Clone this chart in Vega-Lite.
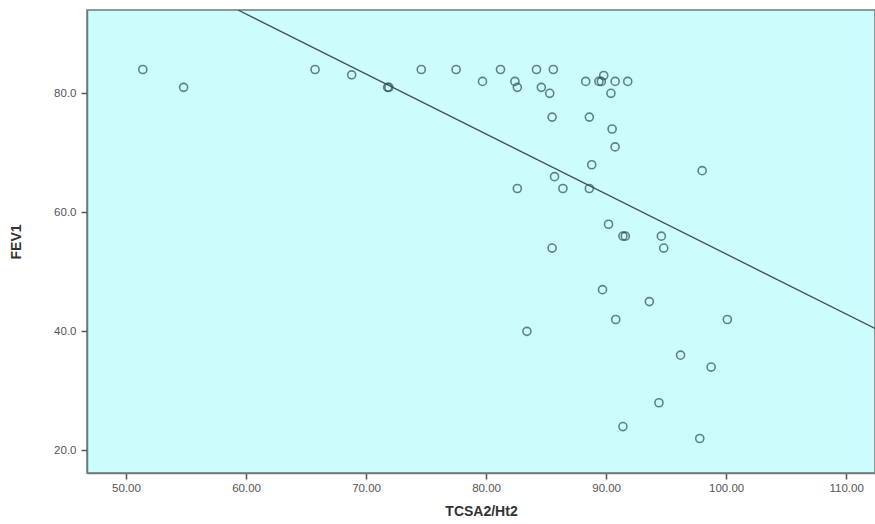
{
  "$schema": "https://vega.github.io/schema/vega-lite/v6.json",
  "autosize": "none",
  "width": 788,
  "height": 463,
  "padding": {"left": 87, "top": 10, "right": 0, "bottom": 51},
  "background": "white",
  "config": {
    "view": {"fill": "#ccfcfc", "stroke": "#707878", "strokeWidth": 1.5},
    "axis": {
      "labelFont": "Liberation Sans",
      "titleFont": "Liberation Sans",
      "labelFontSize": 11.5,
      "labelColor": "#555",
      "titleFontSize": 14,
      "titleFontWeight": "bold",
      "titleColor": "#333",
      "grid": false,
      "domainColor": "#707878",
      "domainWidth": 1.5,
      "tickColor": "#555",
      "tickWidth": 1.5,
      "tickSize": 6
    }
  },
  "datasets": {
    "pts": [
      {"x": 51.4, "y": 84}, {"x": 54.8, "y": 81}, {"x": 65.75, "y": 84}, {"x": 68.8, "y": 83.1},
      {"x": 71.8, "y": 81}, {"x": 71.9, "y": 81}, {"x": 74.6, "y": 84}, {"x": 77.5, "y": 84},
      {"x": 79.7, "y": 82}, {"x": 81.2, "y": 84}, {"x": 82.4, "y": 82}, {"x": 82.6, "y": 81},
      {"x": 84.2, "y": 84}, {"x": 85.6, "y": 84}, {"x": 84.6, "y": 81}, {"x": 85.3, "y": 80},
      {"x": 85.5, "y": 76}, {"x": 88.6, "y": 76}, {"x": 88.3, "y": 82}, {"x": 89.4, "y": 82},
      {"x": 89.6, "y": 82}, {"x": 89.8, "y": 83}, {"x": 90.75, "y": 82}, {"x": 91.8, "y": 82},
      {"x": 90.4, "y": 80}, {"x": 90.5, "y": 74}, {"x": 90.75, "y": 71}, {"x": 88.8, "y": 68},
      {"x": 85.7, "y": 66}, {"x": 82.6, "y": 64}, {"x": 86.4, "y": 64}, {"x": 88.6, "y": 64},
      {"x": 98.0, "y": 67}, {"x": 90.2, "y": 58}, {"x": 91.4, "y": 56}, {"x": 91.6, "y": 56},
      {"x": 94.6, "y": 56}, {"x": 94.8, "y": 54}, {"x": 85.5, "y": 54}, {"x": 89.7, "y": 47},
      {"x": 93.6, "y": 45}, {"x": 90.8, "y": 42}, {"x": 100.1, "y": 42}, {"x": 83.4, "y": 40},
      {"x": 96.2, "y": 36}, {"x": 98.75, "y": 34}, {"x": 94.4, "y": 28}, {"x": 91.4, "y": 24},
      {"x": 97.8, "y": 22}
    ],
    "fit": [
      {"x": 59.33, "y": 94.0}, {"x": 112.4, "y": 40.5}
    ]
  },
  "layer": [
    {
      "data": {"name": "fit"},
      "mark": {"type": "line", "color": "#3f5050", "strokeWidth": 1.3, "clip": true},
      "encoding": {
        "x": {"field": "x", "type": "quantitative"},
        "y": {"field": "y", "type": "quantitative"}
      }
    },
    {
      "data": {"name": "pts"},
      "mark": {"type": "point", "shape": "circle", "filled": false, "stroke": "#2f5050", "strokeWidth": 1.6, "size": 65, "clip": true},
      "encoding": {
        "x": {
          "field": "x", "type": "quantitative",
          "scale": {"domain": [46.75, 112.4], "nice": false, "zero": false},
          "axis": {"title": "TCSA2/Ht2", "values": [50, 60, 70, 80, 90, 100, 110], "format": ".2f", "titlePadding": 11, "labelPadding": 3}
        },
        "y": {
          "field": "y", "type": "quantitative",
          "scale": {"domain": [16.2, 94.0], "nice": false, "zero": false},
          "axis": {"title": "FEV1", "values": [20, 40, 60, 80], "format": ".1f", "titlePadding": 30, "labelPadding": 5}
        }
      }
    }
  ]
}
